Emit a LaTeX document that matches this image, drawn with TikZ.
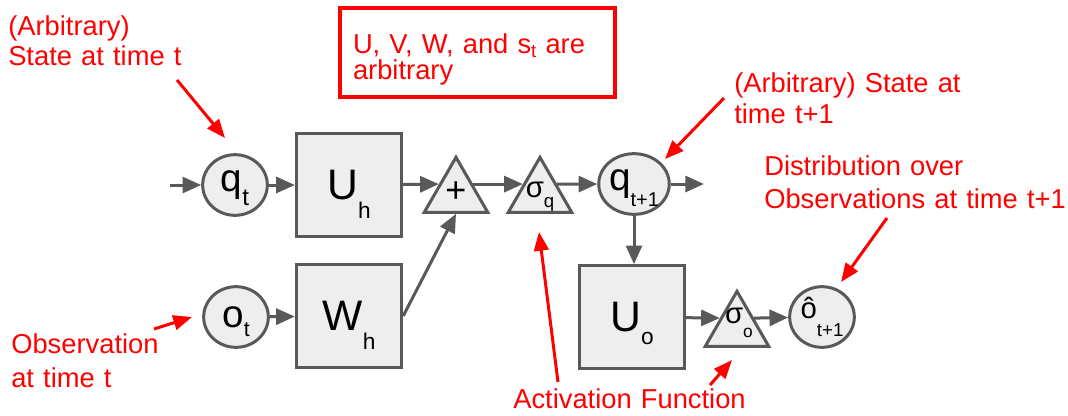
\documentclass[tikz,border=0pt]{standalone}
\usepackage{fontspec}
\setmainfont{Liberation Sans}
\usetikzlibrary{calc,arrows.meta,shapes.geometric}
\definecolor{gline}{HTML}{595959}
\definecolor{gfill}{HTML}{EEEEEE}
\definecolor{note}{HTML}{FF0000}
\newcommand{\lowered}[3]{\raisebox{-#1}{\fontsize{#2}{#2}\selectfont #3}}

\begin{document}
\begin{tikzpicture}[
    x=0.75pt, y=-0.75pt,
    block/.style={rectangle, draw=gline, fill=gfill, line width=2.25pt, minimum width=79pt, minimum height=77pt, inner sep=0pt, font=\fontsize{32pt}{32pt}\selectfont},
    state/.style={ellipse, draw=gline, fill=gfill, line width=2.25pt, minimum width=48.5pt, minimum height=45.5pt, inner sep=0pt, font=\fontsize{29pt}{29pt}\selectfont},
    gate/.style={regular polygon, regular polygon sides=3, draw=gline, fill=gfill, line width=2.25pt, minimum size=55pt, inner sep=0pt},
    gatetext/.style={font=\fontsize{22pt}{22pt}\selectfont, inner sep=0pt},
    flow/.style={-{Triangle[length=14pt,width=12pt]}, draw=gline, line width=2.25pt},
    pointer/.style={-{Triangle[length=14pt,width=11pt]}, draw=note, line width=2.25pt},
    remark/.style={text=note, inner sep=0pt, anchor=base west, align=left, text width=320pt}
]
\useasboundingbox (0,0) rectangle (1068,415);

\node[state] (qt) at (235,185) {q\smash{\lowered{10.5pt}{18pt}{t}}};
\node[block] (uh) at (349,185) {U\smash{\lowered{14pt}{17pt}{h}}};
\node[gate, label={[gatetext, font=\fontsize{27pt}{27pt}\selectfont, shift={(0,-1.5)}]center:+}] (plus) at (456,194) {};
\node[gate, label={[gatetext, shift={(0,-4.5)}]center:σ\smash{\lowered{8pt}{14pt}{q}}}] (sigq) at (540,194) {};
\node[state] (qt1) at (634,184) {q\smash{\lowered{12pt}{15pt}{t+1}}};
\node[state] (ot) at (236,317) {o\smash{\lowered{6.75pt}{16pt}{t}}};
\node[block] (wh) at (349,316) {W\smash{\lowered{14pt}{17pt}{h}}};
\node[block] (uo) at (632,317) {U\smash{\lowered{10pt}{17pt}{o}}};
\node[gate, label={[gatetext, shift={(2,-12.5)}]center:σ\smash{\lowered{11pt}{13pt}{o}}}] (sigo) at (737,328) {};
\node[state, font=\fontsize{22pt}{22pt}\selectfont] (ohat) at (822,317) {ô\lowered{13pt}{14pt}{t+1}};

\coordinate (qin) at (170,185);
\coordinate (qout) at (704,184);

\draw[flow] (qin) -- (qt);
\draw[flow] (qt) -- (uh);
\draw[flow] (uh) -- (plus.side 1);
\draw[flow] (plus.side 3) -- (sigq.side 1);
\draw[flow] (sigq.side 3) -- (qt1);
\draw[flow] (qt1) -- (qout);
\draw[flow] (ot) -- (wh);
\draw[flow] (wh.east) -- (plus.side 2);
\draw[flow] (qt1.south) -- (qt1.south |- uo.north);
\draw[flow] (uo) -- (sigo.side 1);
\draw[flow] (sigo.side 3) -- (ohat);

\node[draw=note, line width=3pt, outer sep=0pt, inner xsep=9.75pt, inner ysep=0pt, anchor=base west, align=left, text=note, text width=186.75pt, text height=33.75pt, text depth=33pt, font=\fontsize{20.5pt}{19.5pt}\selectfont] (given) at (340,53) {U, V, W, and s\lowered{3pt}{14pt}{t} are\\arbitrary};

\node[remark, font=\fontsize{20.5pt}{22.5pt}\selectfont] (stateT) at (8,35) {(Arbitrary)\\State at time t};
\node[remark, font=\fontsize{20.5pt}{23.25pt}\selectfont] (stateT1) at (734,92) {(Arbitrary) State at\\time t+1};
\node[remark, font=\fontsize{20.5pt}{24.75pt}\selectfont] (distT1) at (764,175) {Distribution over\\Observations at time t+1};
\node[remark, font=\fontsize{20.5pt}{25.5pt}\selectfont] (obsT) at (11,353) {Observation\\at time t};
\node[remark, font=\fontsize{20.5pt}{24pt}\selectfont] (actfn) at (513,408) {Activation Function};

\coordinate (pa) at (177,80);   \coordinate (pb) at (225,138);
\coordinate (oa) at (154,329);  \coordinate (ob) at (192,317);
\coordinate (aa) at (558,382);  \coordinate (ab) at (539,232);
\coordinate (ac) at (710,385);  \coordinate (ad) at (732,360);
\coordinate (sa) at (724,98);   \coordinate (sb) at (665,159);
\coordinate (da) at (887,218);  \coordinate (db) at (841,282);

\draw[pointer] (pa) -- (pb);
\draw[pointer] (oa) -- (ob);
\draw[pointer] (aa) -- (ab);
\draw[pointer] (ac) -- (ad);
\draw[pointer] (sa) -- (sb);
\draw[pointer] (da) -- (db);
\end{tikzpicture}
\end{document}
